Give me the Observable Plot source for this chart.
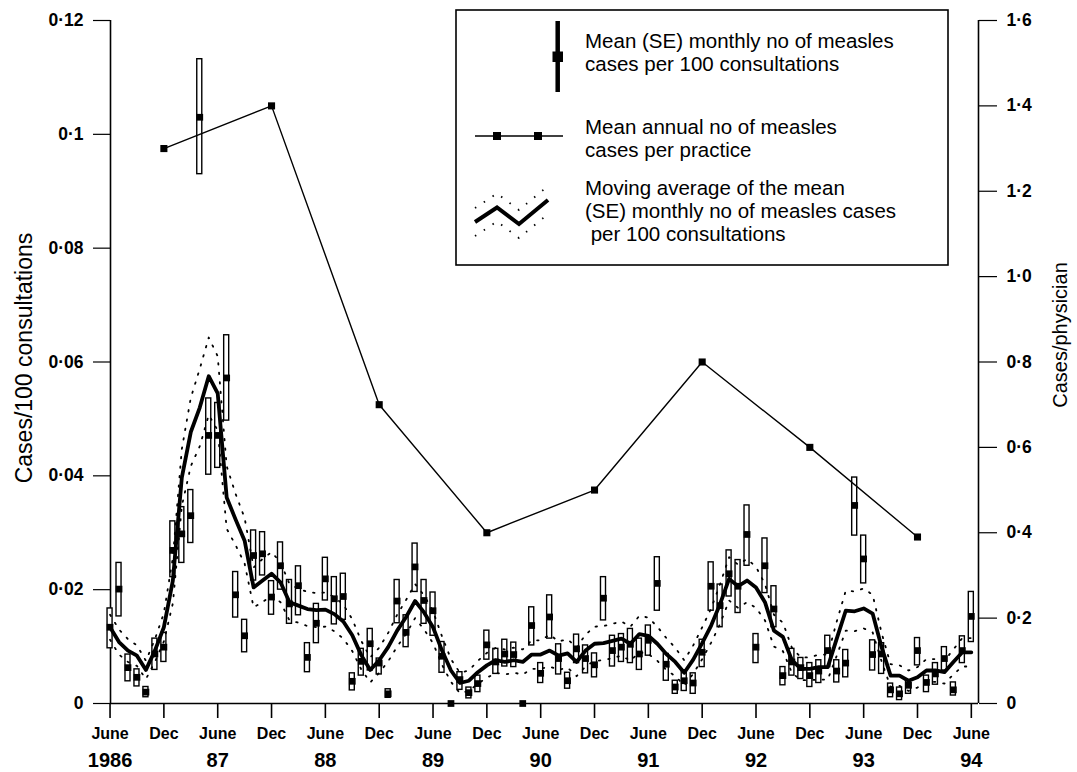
<!DOCTYPE html>
<html><head><meta charset="utf-8">
<script src="https://cdn.jsdelivr.net/npm/d3@7"></script>
<script src="https://cdn.jsdelivr.net/npm/@observablehq/plot@0.6"></script>
<style>body{margin:0;background:#fff}</style>
</head><body><div id="chart"></div>
<script>
// Month index 0 = June 1986 ... 96 = June 1994
const monthlyMean = [
0.0134,0.0201,0.0063,0.0046,0.0020,0.0087,0.0099,0.0269,0.0298,0.0330,
0.1030,0.0471,0.0471,0.0572,0.0191,0.0119,0.0260,0.0263,0.0187,0.0242,
0.0175,0.0207,0.0081,0.0141,0.0219,0.0184,0.0188,0.0039,0.0074,0.0105,
0.0071,0.0017,0.0180,0.0125,0.0240,0.0181,0.0163,0.0083,0.0000,0.0042,
0.0019,0.0035,0.0103,0.0073,0.0087,0.0086,0.0000,0.0137,0.0053,0.0152,
0.0079,0.0040,0.0096,0.0079,0.0068,0.0185,0.0093,0.0099,0.0104,0.0087,
0.0111,0.0211,0.0069,0.0029,0.0040,0.0036,0.0090,0.0206,0.0172,0.0228,
0.0206,0.0297,0.0099,0.0242,0.0166,0.0049,0.0073,0.0063,0.0049,0.0057,
0.0093,0.0057,0.0071,0.0348,0.0254,0.0086,0.0087,0.0024,0.0017,0.0032,
0.0093,0.0037,0.0052,0.0079,0.0024,0.0093,0.0153];
const monthlyLow = [
0.0097,0.0153,0.0039,0.0030,0.0011,0.0059,0.0073,0.0222,0.0247,0.0282,
0.0930,0.0402,0.0414,0.0497,0.0151,0.0090,0.0216,0.0225,0.0156,0.0200,
0.0140,0.0155,0.0055,0.0106,0.0181,0.0139,0.0147,0.0023,0.0049,0.0058,
0.0051,0.0010,0.0141,0.0099,0.0196,0.0140,0.0119,0.0054,0.0000,0.0024,
0.0009,0.0020,0.0077,0.0052,0.0065,0.0064,0.0000,0.0102,0.0036,0.0114,
0.0051,0.0026,0.0071,0.0053,0.0046,0.0146,0.0065,0.0073,0.0071,0.0059,
0.0084,0.0163,0.0040,0.0017,0.0022,0.0017,0.0064,0.0163,0.0134,0.0188,
0.0159,0.0242,0.0071,0.0194,0.0134,0.0032,0.0049,0.0043,0.0029,0.0036,
0.0064,0.0037,0.0046,0.0295,0.0211,0.0058,0.0052,0.0011,0.0006,0.0017,
0.0067,0.0020,0.0033,0.0058,0.0014,0.0071,0.0108];
const monthlyHigh = [
0.0167,0.0247,0.0086,0.0060,0.0029,0.0114,0.0124,0.0320,0.0345,0.0375,
0.1132,0.0536,0.0528,0.0647,0.0231,0.0147,0.0304,0.0301,0.0215,0.0283,
0.0217,0.0241,0.0106,0.0175,0.0256,0.0222,0.0228,0.0053,0.0096,0.0131,
0.0079,0.0025,0.0217,0.0155,0.0281,0.0217,0.0195,0.0108,0.0000,0.0055,
0.0028,0.0049,0.0128,0.0096,0.0112,0.0107,0.0000,0.0169,0.0071,0.0190,
0.0104,0.0054,0.0121,0.0102,0.0088,0.0222,0.0119,0.0122,0.0131,0.0114,
0.0137,0.0257,0.0087,0.0040,0.0058,0.0053,0.0112,0.0248,0.0209,0.0269,
0.0252,0.0348,0.0122,0.0290,0.0206,0.0064,0.0096,0.0080,0.0071,0.0076,
0.0119,0.0076,0.0094,0.0397,0.0295,0.0111,0.0106,0.0035,0.0028,0.0040,
0.0115,0.0049,0.0071,0.0099,0.0037,0.0118,0.0196];
const movingAverage = [
0.0134,0.0108,0.0093,0.0084,0.0059,0.0093,0.0134,0.0216,0.0397,0.0477,
0.0520,0.0575,0.0545,0.0362,0.0323,0.0286,0.0204,0.0216,0.0228,0.0213,
0.0178,0.0172,0.0166,0.0164,0.0165,0.0157,0.0144,0.0120,0.0085,0.0059,
0.0076,0.0099,0.0128,0.0152,0.0180,0.0160,0.0134,0.0093,0.0058,0.0036,
0.0040,0.0055,0.0067,0.0076,0.0073,0.0076,0.0073,0.0086,0.0086,0.0093,
0.0084,0.0088,0.0073,0.0093,0.0105,0.0106,0.0110,0.0114,0.0105,0.0122,
0.0119,0.0105,0.0087,0.0073,0.0054,0.0077,0.0106,0.0137,0.0175,0.0219,
0.0206,0.0216,0.0204,0.0178,0.0128,0.0117,0.0076,0.0061,0.0061,0.0064,
0.0064,0.0114,0.0163,0.0162,0.0167,0.0158,0.0099,0.0049,0.0049,0.0040,
0.0046,0.0058,0.0058,0.0055,0.0073,0.0090,0.0090];
const movingAverageSE = [
0.0022,0.0022,0.0020,0.0018,0.0016,0.0020,0.0025,0.0040,0.0050,0.0060,
0.0068,0.0068,0.0065,0.0055,0.0045,0.0040,0.0035,0.0038,0.0038,0.0035,
0.0032,0.0030,0.0030,0.0030,0.0030,0.0030,0.0030,0.0028,0.0025,0.0022,
0.0022,0.0025,0.0028,0.0030,0.0030,0.0030,0.0028,0.0025,0.0020,0.0018,
0.0018,0.0020,0.0022,0.0022,0.0022,0.0022,0.0022,0.0025,0.0025,0.0028,
0.0025,0.0025,0.0025,0.0028,0.0030,0.0030,0.0030,0.0030,0.0030,0.0032,
0.0032,0.0030,0.0028,0.0025,0.0022,0.0025,0.0028,0.0030,0.0035,0.0038,
0.0038,0.0038,0.0036,0.0032,0.0028,0.0025,0.0022,0.0020,0.0020,0.0022,
0.0022,0.0030,0.0035,0.0035,0.0035,0.0033,0.0025,0.0020,0.0018,0.0018,
0.0018,0.0020,0.0020,0.0020,0.0022,0.0025,0.0025];
// Annual mean cases per practice (right axis), placed at December of each year
const annualMonths = [6, 18, 30, 42, 54, 66, 78, 90];
const annualCasesPerPractice = [1.3, 1.4, 0.7, 0.4, 0.5, 0.8, 0.6, 0.39];

const leftTicks = [0, 0.02, 0.04, 0.06, 0.08, 0.1, 0.12];
const leftTickLabels = ["0", "0·02", "0·04", "0·06", "0·08", "0·1", "0·12"];
const rightTicks = [0, 0.2, 0.4, 0.6, 0.8, 1.0, 1.2, 1.4, 1.6];
const rightTickLabels = ["0", "0·2", "0·4", "0·6", "0·8", "1·0", "1·2", "1·4", "1·6"];
const xTickMonths = [0, 6, 12, 18, 24, 30, 36, 42, 48, 54, 60, 66, 72, 78, 84, 90, 96];
const xTickLabels = ["June","Dec","June","Dec","June","Dec","June","Dec","June","Dec","June","Dec","June","Dec","June","Dec","June"];
const yearMonths = [0, 12, 24, 36, 48, 60, 72, 84, 96];
const yearLabels = ["1986", "87", "88", "89", "90", "91", "92", "93", "94"];

const K = 0.12 / 1.6; // right-axis units -> left-axis units
const monthly = monthlyMean.map((v, i) => ({m: i, mean: v, lo: monthlyLow[i], hi: monthlyHigh[i], ma: movingAverage[i], se: movingAverageSE[i]}));
const annual = annualMonths.map((m, i) => ({m, v: annualCasesPerPractice[i]}));
const xDomain = [0.05, 96.8];
const FONT = "'Liberation Sans', Arial, Helvetica, sans-serif";

const chart = Plot.plot({
  width: 1077, height: 772,
  marginLeft: 110, marginRight: 99, marginTop: 20, marginBottom: 69,
  style: {fontFamily: FONT, background: "white", color: "black", overflow: "visible"},
  x: {type: "linear", domain: xDomain, label: null},
  y: {domain: [0, 0.12], label: null},
  marks: [
    Plot.ruleX(xDomain, {strokeWidth: 1.6}),
    Plot.ruleY([0], {strokeWidth: 1.6}),
    Plot.axisY(leftTicks, {anchor: "left", tickSize: 17, tickPadding: 10, fontSize: 17.5, fontWeight: "bold", strokeWidth: 1.2, label: null,
      tickFormat: d => leftTickLabels[leftTicks.indexOf(d)]}),
    Plot.axisY(rightTicks.map(v => v * K), {anchor: "right", tickSize: 18, tickPadding: 10, fontSize: 17.5, fontWeight: "bold", strokeWidth: 1.2, label: null,
      tickFormat: d => rightTickLabels[Math.round(d / K * 5)]}),
    Plot.axisX(xTickMonths, {anchor: "bottom", tickSize: 15, tickPadding: 9, fontSize: 16, fontWeight: "bold", strokeWidth: 1.6, label: null,
      tickFormat: d => xTickLabels[d / 6]}),
    Plot.axisX(yearMonths, {anchor: "bottom", tickSize: 0, tickPadding: 49, fontSize: 20, fontWeight: "bold", label: null,
      tickFormat: d => yearLabels[d / 12]}),
    // monthly SE bars
    Plot.rect(monthly, {x1: d => d.m - 0.28, x2: d => d.m + 0.28, y1: "lo", y2: "hi", fill: "white", stroke: "black", strokeWidth: 1.4}),
    Plot.dot(monthly, {x: "m", y: "mean", symbol: "square", r: 3.8, fill: "black", stroke: null}),
    // moving average band and line
    Plot.line(monthly, {x: "m", y: d => d.ma + d.se, stroke: "black", strokeWidth: 1.8, strokeDasharray: "1.5 8"}),
    Plot.line(monthly, {x: "m", y: d => Math.max(0, d.ma - d.se), stroke: "black", strokeWidth: 1.8, strokeDasharray: "1.5 8"}),
    Plot.line(monthly, {x: "m", y: "ma", stroke: "black", strokeWidth: 3.8, strokeLinejoin: "round"}),
    // annual cases per practice (right axis)
    Plot.line(annual, {x: "m", y: d => d.v * K, stroke: "black", strokeWidth: 1.4}),
    Plot.dot(annual, {x: "m", y: d => d.v * K, symbol: "square", r: 4, fill: "black", stroke: null})
  ]
});
document.getElementById("chart").appendChild(chart);

// Axis titles and legend (layout elements)
const svg = d3.select(chart);
svg.append("text").attr("transform", "translate(32,358) rotate(-90)").attr("text-anchor", "middle")
  .attr("font-family", FONT).attr("font-size", 23).attr("fill", "black").text("Cases/100 consultations");
svg.append("text").attr("transform", "translate(1067,335) rotate(-90)").attr("text-anchor", "middle")
  .attr("font-family", FONT).attr("font-size", 20).attr("fill", "black").text("Cases/physician");

const lg = svg.append("g").attr("font-family", FONT).attr("font-size", 20.5).attr("fill", "black").attr("text-anchor", "start");
lg.append("rect").attr("x", 456).attr("y", 10).attr("width", 492).attr("height", 255)
  .attr("fill", "white").attr("stroke", "black").attr("stroke-width", 1.6);
// item 1
lg.append("line").attr("x1", 557.7).attr("x2", 557.7).attr("y1", 21).attr("y2", 92).attr("stroke", "black").attr("stroke-width", 4.5);
lg.append("rect").attr("x", 552.5).attr("y", 51.5).attr("width", 10.5).attr("height", 10.5).attr("fill", "black");
// item 2
lg.append("line").attr("x1", 475).attr("x2", 563).attr("y1", 136).attr("y2", 136).attr("stroke", "black").attr("stroke-width", 1.5);
[497, 538].forEach(x => lg.append("rect").attr("x", x - 4).attr("y", 132).attr("width", 8).attr("height", 8).attr("fill", "black"));
// item 3
const zig = [[475, 222], [497, 207.5], [519, 224], [548, 200]];
const ln = d3.line();
lg.append("path").attr("d", ln(zig)).attr("fill", "none").attr("stroke", "black").attr("stroke-width", 4);
[-14, 14].forEach(o => lg.append("path").attr("d", ln(zig.map(([x, y]) => [x, y + o]))).attr("fill", "none")
  .attr("stroke", "black").attr("stroke-width", 1.8).attr("stroke-dasharray", "1.5 9"));
const legendLines = [
  [48, "Mean (SE) monthly no of measles"], [71, "cases per 100 consultations"],
  [134, "Mean annual no of measles"], [157, "cases per practice"],
  [195, "Moving average of the mean"], [218, "(SE) monthly no of measles cases"], [241, " per 100 consultations"]
];
legendLines.forEach(([y, t]) => lg.append("text").attr("x", 585).attr("y", y).attr("text-anchor", "start").style("white-space", "pre").text(t));
</script>
</body></html>
